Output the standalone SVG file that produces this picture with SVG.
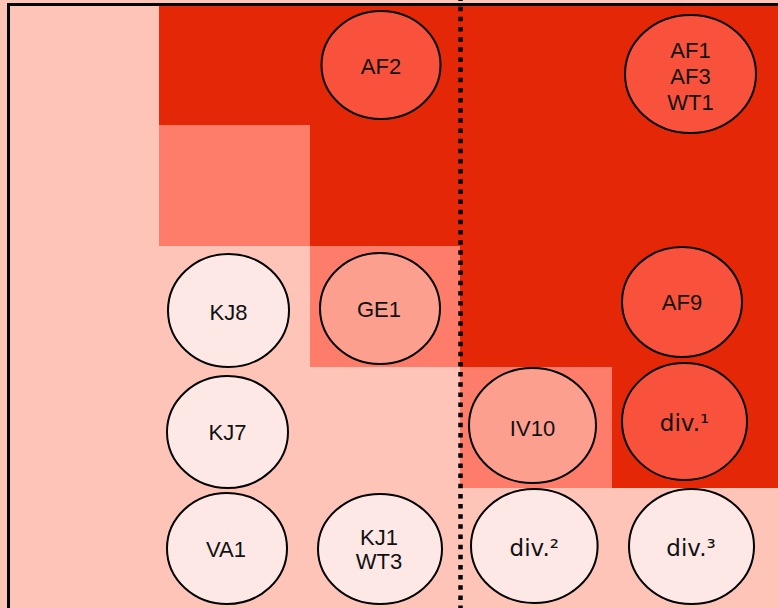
<svg xmlns="http://www.w3.org/2000/svg" width="778" height="608" viewBox="0 0 778 608">
<style>
.bg{fill:#FEC4B8}
.dark{fill:#E42707}
.mid{fill:#FE7D6A}
ellipse{stroke:#000;stroke-width:2}
.n-light{fill:#FEE8E6}
.n-mid{fill:#FC9F8F}
.n-dark{fill:#F9523C}
text{font-family:"Liberation Sans",Arial,sans-serif;font-size:22px;fill:#111;text-anchor:middle}
text.dv{font-family:"DejaVu Sans",sans-serif;font-size:23px}
</style>
<g id="background">
<rect class="bg" x="0" y="0" width="778" height="608"/>
<rect class="dark" x="159" y="6" width="619" height="240"/>
<rect class="dark" x="460" y="246" width="318" height="242"/>
<rect class="mid" x="159" y="125" width="151" height="121"/>
<rect class="mid" x="310" y="246" width="150" height="121"/>
<rect class="mid" x="460" y="367" width="152" height="121"/>
</g>
<g id="connectors">
<path d="M460.5,-3.45 V608" fill="none" stroke="#000" stroke-width="4.5" stroke-dasharray="4.5 5.65"/>
</g>
<rect x="8.5" y="4.5" width="800" height="700" fill="none" stroke="#000" stroke-width="3"/>
<g id="AF2"><ellipse class="n-dark" cx="381" cy="65" rx="59.5" ry="54"/><text x="381" y="74">AF2</text></g>
<g id="AF1_AF3_WT1"><ellipse class="n-dark" cx="690.5" cy="74" rx="65.5" ry="59"/><text x="690.5" y="58">AF1</text><text x="690.5" y="84">AF3</text><text x="690.5" y="110">WT1</text></g>
<g id="KJ8"><ellipse class="n-light" cx="228.5" cy="310.5" rx="60.5" ry="56.5"/><text x="228.5" y="320">KJ8</text></g>
<g id="GE1"><ellipse class="n-mid" cx="380" cy="308.5" rx="60" ry="55.5"/><text x="379" y="317">GE1</text></g>
<g id="AF9"><ellipse class="n-dark" cx="682" cy="302" rx="60" ry="55"/><text x="682" y="310">AF9</text></g>
<g id="KJ7"><ellipse class="n-light" cx="227.5" cy="432" rx="60.5" ry="56"/><text x="227.5" y="440">KJ7</text></g>
<g id="IV10"><ellipse class="n-mid" cx="532.5" cy="425.5" rx="63.5" ry="57.5"/><text x="532.5" y="436">IV10</text></g>
<g id="div1"><ellipse class="n-dark" cx="684.5" cy="421.5" rx="62.5" ry="58.5"/><text class="dv" x="684.5" y="431">div.¹</text></g>
<g id="VA1"><ellipse class="n-light" cx="227" cy="548.5" rx="60" ry="55.5"/><text x="226" y="557">VA1</text></g>
<g id="KJ1_WT3"><ellipse class="n-light" cx="380" cy="549" rx="62" ry="55"/><text x="379" y="545">KJ1</text><text x="379" y="569">WT3</text></g>
<g id="div2"><ellipse class="n-light" cx="534.3" cy="546" rx="63.3" ry="57"/><text class="dv" x="534.3" y="556">div.²</text></g>
<g id="div3"><ellipse class="n-light" cx="691.5" cy="546.5" rx="62.5" ry="57.5"/><text class="dv" x="691" y="555.5">div.³</text></g>
</svg>
